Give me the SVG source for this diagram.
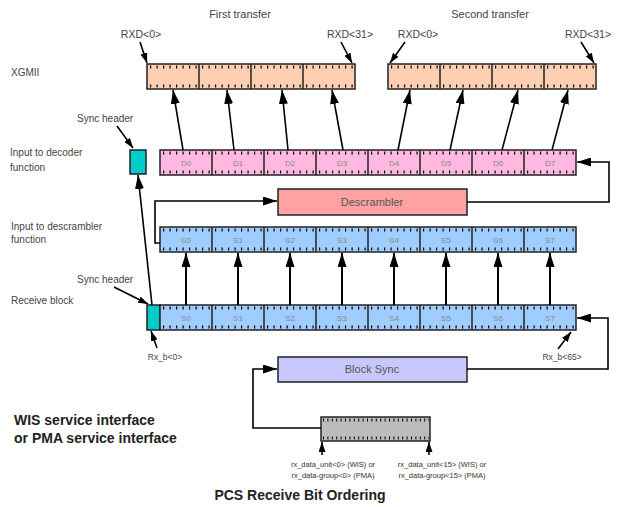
<svg xmlns="http://www.w3.org/2000/svg" width="621" height="507" viewBox="0 0 621 507">
  <defs>
    <marker id="ah" markerWidth="14" markerHeight="9" refX="14" refY="4.5" orient="auto" markerUnits="userSpaceOnUse">
      <path d="M0,0 L14,4.5 L0,9 z" fill="#000"/>
    </marker>
    <marker id="ahs" markerWidth="10" markerHeight="7" refX="10" refY="3.5" orient="auto" markerUnits="userSpaceOnUse">
      <path d="M0,0 L10,3.5 L0,7 z" fill="#000"/>
    </marker>
  </defs>
  <style>
    text { font-family: "Liberation Sans", Arial, sans-serif; }
    .lbl { font-size: 10px; fill: #444; }
    .head { font-size: 11px; fill: #444; text-anchor: middle; }
    .rxd { font-size: 10.5px; fill: #444; text-anchor: middle; }
    .seg { font-size: 8px; fill: #888; text-anchor: middle; }
    .small { font-size: 7.5px; fill: #333; text-anchor: middle; }
    .bold { font-size: 14px; font-weight: bold; fill: #222; }
    .box { font-size: 11px; fill: #555; text-anchor: middle; }
    .bar { stroke: #222; stroke-width: 1.5; }
    .div { stroke: #222; stroke-width: 1.5; }
    .tick { stroke: #000; stroke-width: 3; stroke-dasharray: 1.2 5.3; }
    .tickg { stroke: #000; stroke-width: 3; stroke-dasharray: 1 3.4; }
    .xg { fill: #fdcfb2; }
    .dd { fill: #ffb8e0; }
    .ss { fill: #9fcdff; }
    .cy { fill: #00cccc; }
    .conn { fill: none; stroke: #000; stroke-width: 1.6; }
    .up { stroke: #000; stroke-width: 2; }
  </style>

  <!-- headings -->
  <text class="head" x="240" y="18">First transfer</text>
  <text class="head" x="490" y="18">Second transfer</text>

  <!-- side labels -->
  <text class="lbl" x="11" y="76">XGMII</text>
  <text class="lbl" x="10" y="156">Input to decoder</text>
  <text class="lbl" x="10" y="171">function</text>
  <text class="lbl" x="11" y="230">Input to descrambler</text>
  <text class="lbl" x="11" y="243">function</text>
  <text class="lbl" x="11" y="304">Receive block</text>

  <!-- XGMII first transfer -->
  <g id="xgmii1">
    <rect class="bar xg" x="147" y="64" width="208" height="25"/>
    <line class="tick" x1="150" y1="67" x2="354" y2="67"/>
    <line class="tick" x1="150" y1="86" x2="354" y2="86"/>
    <line class="div" x1="199" y1="64" x2="199" y2="89"/>
    <line class="div" x1="251" y1="64" x2="251" y2="89"/>
    <line class="div" x1="303" y1="64" x2="303" y2="89"/>
    <text class="rxd" x="141" y="38">RXD&lt;0&gt;</text>
    <text class="rxd" x="350" y="38">RXD&lt;31&gt;</text>
  </g>

  <!-- XGMII second transfer -->
  <g id="xgmii2">
    <rect class="bar xg" x="388" y="64" width="208" height="25"/>
    <line class="tick" x1="391" y1="67" x2="595" y2="67"/>
    <line class="tick" x1="391" y1="86" x2="595" y2="86"/>
    <line class="div" x1="440" y1="64" x2="440" y2="89"/>
    <line class="div" x1="492" y1="64" x2="492" y2="89"/>
    <line class="div" x1="544" y1="64" x2="544" y2="89"/>
    <text class="rxd" x="418" y="38">RXD&lt;0&gt;</text>
    <text class="rxd" x="588" y="38">RXD&lt;31&gt;</text>
  </g>

  <!-- decoder input -->
  <g id="sync-decoder">
    <rect class="bar cy" x="130" y="150" width="16" height="24"/>
    <text class="lbl" x="77" y="122">Sync header</text>
  </g>
  <g id="decoder-input">
    <rect class="bar dd" x="160" y="150" width="416" height="25"/>
    <line class="tick" x1="163" y1="153" x2="575" y2="153"/>
    <line class="tick" x1="163" y1="172" x2="575" y2="172"/>
    <line class="div" x1="212" y1="150" x2="212" y2="175"/>
    <line class="div" x1="264" y1="150" x2="264" y2="175"/>
    <line class="div" x1="316" y1="150" x2="316" y2="175"/>
    <line class="div" x1="368" y1="150" x2="368" y2="175"/>
    <line class="div" x1="420" y1="150" x2="420" y2="175"/>
    <line class="div" x1="472" y1="150" x2="472" y2="175"/>
    <line class="div" x1="524" y1="150" x2="524" y2="175"/>
    <text class="seg" x="186" y="166">D0</text>
    <text class="seg" x="238" y="166">D1</text>
    <text class="seg" x="290" y="166">D2</text>
    <text class="seg" x="342" y="166">D3</text>
    <text class="seg" x="394" y="166">D4</text>
    <text class="seg" x="446" y="166">D5</text>
    <text class="seg" x="498" y="166">D6</text>
    <text class="seg" x="550" y="166">D7</text>
  </g>

  <!-- descrambler -->
  <g id="descrambler">
    <rect x="278" y="189" width="189" height="26" fill="#ffa2a2" stroke="#222" stroke-width="1.5"/>
    <text class="box" x="372" y="206">Descrambler</text>
  </g>

  <!-- descrambler input -->
  <g id="descrambler-input">
    <rect class="bar ss" x="160" y="227" width="416" height="25"/>
    <line class="tick" x1="163" y1="230" x2="575" y2="230"/>
    <line class="tick" x1="163" y1="249" x2="575" y2="249"/>
    <line class="div" x1="212" y1="227" x2="212" y2="252"/>
    <line class="div" x1="264" y1="227" x2="264" y2="252"/>
    <line class="div" x1="316" y1="227" x2="316" y2="252"/>
    <line class="div" x1="368" y1="227" x2="368" y2="252"/>
    <line class="div" x1="420" y1="227" x2="420" y2="252"/>
    <line class="div" x1="472" y1="227" x2="472" y2="252"/>
    <line class="div" x1="524" y1="227" x2="524" y2="252"/>
    <text class="seg" x="186" y="243">S0</text>
    <text class="seg" x="238" y="243">S1</text>
    <text class="seg" x="290" y="243">S2</text>
    <text class="seg" x="342" y="243">S3</text>
    <text class="seg" x="394" y="243">S4</text>
    <text class="seg" x="446" y="243">S5</text>
    <text class="seg" x="498" y="243">S6</text>
    <text class="seg" x="550" y="243">S7</text>
  </g>

  <!-- receive block -->
  <g id="sync-receive">
    <rect class="bar cy" x="147" y="305" width="13" height="25"/>
    <text class="lbl" x="77" y="283">Sync header</text>
  </g>
  <g id="receive-block">
    <rect class="bar ss" x="160" y="305" width="416" height="25"/>
    <line class="tick" x1="163" y1="308" x2="575" y2="308"/>
    <line class="tick" x1="163" y1="327" x2="575" y2="327"/>
    <line class="div" x1="212" y1="305" x2="212" y2="330"/>
    <line class="div" x1="264" y1="305" x2="264" y2="330"/>
    <line class="div" x1="316" y1="305" x2="316" y2="330"/>
    <line class="div" x1="368" y1="305" x2="368" y2="330"/>
    <line class="div" x1="420" y1="305" x2="420" y2="330"/>
    <line class="div" x1="472" y1="305" x2="472" y2="330"/>
    <line class="div" x1="524" y1="305" x2="524" y2="330"/>
    <text class="seg" x="186" y="321">S0</text>
    <text class="seg" x="238" y="321">S1</text>
    <text class="seg" x="290" y="321">S2</text>
    <text class="seg" x="342" y="321">S3</text>
    <text class="seg" x="394" y="321">S4</text>
    <text class="seg" x="446" y="321">S5</text>
    <text class="seg" x="498" y="321">S6</text>
    <text class="seg" x="550" y="321">S7</text>
    <text class="lbl" x="165" y="360" text-anchor="middle" style="font-size:8.5px">Rx_b&lt;0&gt;</text>
    <text class="lbl" x="562" y="360" text-anchor="middle" style="font-size:8.5px">Rx_b&lt;65&gt;</text>
  </g>

  <!-- block sync -->
  <g id="block-sync">
    <rect x="278" y="357" width="189" height="25" fill="#c8c8ff" stroke="#222" stroke-width="1.5"/>
    <text class="box" x="372" y="373">Block Sync</text>
  </g>

  <!-- service interface -->
  <g id="service-interface">
    <rect x="321" y="417" width="109" height="24" fill="#bcbcbc" stroke="#222" stroke-width="1.5"/>
    <line class="tickg" x1="323" y1="420" x2="429" y2="420"/>
    <line class="tickg" x1="323" y1="438" x2="429" y2="438"/>
    <text class="bold" x="14" y="425">WIS service interface</text>
    <text class="bold" x="14" y="443">or PMA service interface</text>
    <text class="small" x="333" y="467">rx_data_unit&lt;0&gt; (WIS) or</text>
    <text class="small" x="333" y="478">rx_data-group&lt;0&gt; (PMA)</text>
    <text class="small" x="442" y="467">rx_data_unit&lt;15&gt; (WIS) or</text>
    <text class="small" x="442" y="478">rx_data-group&lt;15&gt; (PMA)</text>
  </g>

  <text class="bold" x="300" y="500" text-anchor="middle">PCS Receive Bit Ordering</text>

  <!-- connectors -->
  <g id="connectors">
    <!-- label pointers -->
    <line class="conn" x1="140" y1="42" x2="147" y2="63" marker-end="url(#ahs)"/>
    <line class="conn" x1="341" y1="42" x2="352" y2="63" marker-end="url(#ahs)"/>
    <line class="conn" x1="405" y1="42" x2="390" y2="63" marker-end="url(#ahs)"/>
    <line class="conn" x1="581" y1="42" x2="594" y2="63" marker-end="url(#ahs)"/>
    <line class="conn" x1="117" y1="126" x2="133" y2="148" marker-end="url(#ahs)"/>
    <line class="conn" x1="114" y1="287" x2="148" y2="304" marker-end="url(#ahs)"/>
    <line class="conn" x1="157" y1="348" x2="151" y2="331" marker-end="url(#ahs)"/>
    <line class="conn" x1="558" y1="349" x2="571" y2="332" marker-end="url(#ahs)"/>

    <!-- decoder input to XGMII -->
    <line class="conn" x1="183" y1="150" x2="173" y2="90" marker-end="url(#ah)"/>
    <line class="conn" x1="234" y1="150" x2="227" y2="90" marker-end="url(#ah)"/>
    <line class="conn" x1="288" y1="150" x2="282" y2="90" marker-end="url(#ah)"/>
    <line class="conn" x1="343" y1="150" x2="332" y2="90" marker-end="url(#ah)"/>
    <line class="conn" x1="398" y1="150" x2="410" y2="90" marker-end="url(#ah)"/>
    <line class="conn" x1="450" y1="150" x2="463" y2="90" marker-end="url(#ah)"/>
    <line class="conn" x1="502" y1="150" x2="518" y2="90" marker-end="url(#ah)"/>
    <line class="conn" x1="552" y1="150" x2="568" y2="90" marker-end="url(#ah)"/>

    <!-- sync header path -->
    <line class="conn" x1="152" y1="305" x2="138" y2="175" marker-end="url(#ah)"/>

    <!-- receive block to descrambler input -->
    <line class="up" x1="186" y1="305" x2="186" y2="253" marker-end="url(#ah)"/>
    <line class="up" x1="238" y1="305" x2="238" y2="253" marker-end="url(#ah)"/>
    <line class="up" x1="290" y1="305" x2="290" y2="253" marker-end="url(#ah)"/>
    <line class="up" x1="342" y1="305" x2="342" y2="253" marker-end="url(#ah)"/>
    <line class="up" x1="394" y1="305" x2="394" y2="253" marker-end="url(#ah)"/>
    <line class="up" x1="446" y1="305" x2="446" y2="253" marker-end="url(#ah)"/>
    <line class="up" x1="498" y1="305" x2="498" y2="253" marker-end="url(#ah)"/>
    <line class="up" x1="550" y1="305" x2="550" y2="253" marker-end="url(#ah)"/>

    <!-- loops -->
    <path class="conn" d="M160,243 H155 V201 H277" marker-end="url(#ah)"/>
    <path class="conn" d="M467,202 H609 V162 H577" marker-end="url(#ah)"/>
    <path class="conn" d="M467,369 H608 V318 H577" marker-end="url(#ah)"/>
    <path class="conn" d="M321,428 H253 V369 H277" marker-end="url(#ah)"/>

    <!-- service interface inputs -->
    <line class="conn" x1="322" y1="455" x2="322" y2="442" marker-end="url(#ahs)"/>
    <line class="conn" x1="429" y1="455" x2="429" y2="442" marker-end="url(#ahs)"/>
  </g>
</svg>
